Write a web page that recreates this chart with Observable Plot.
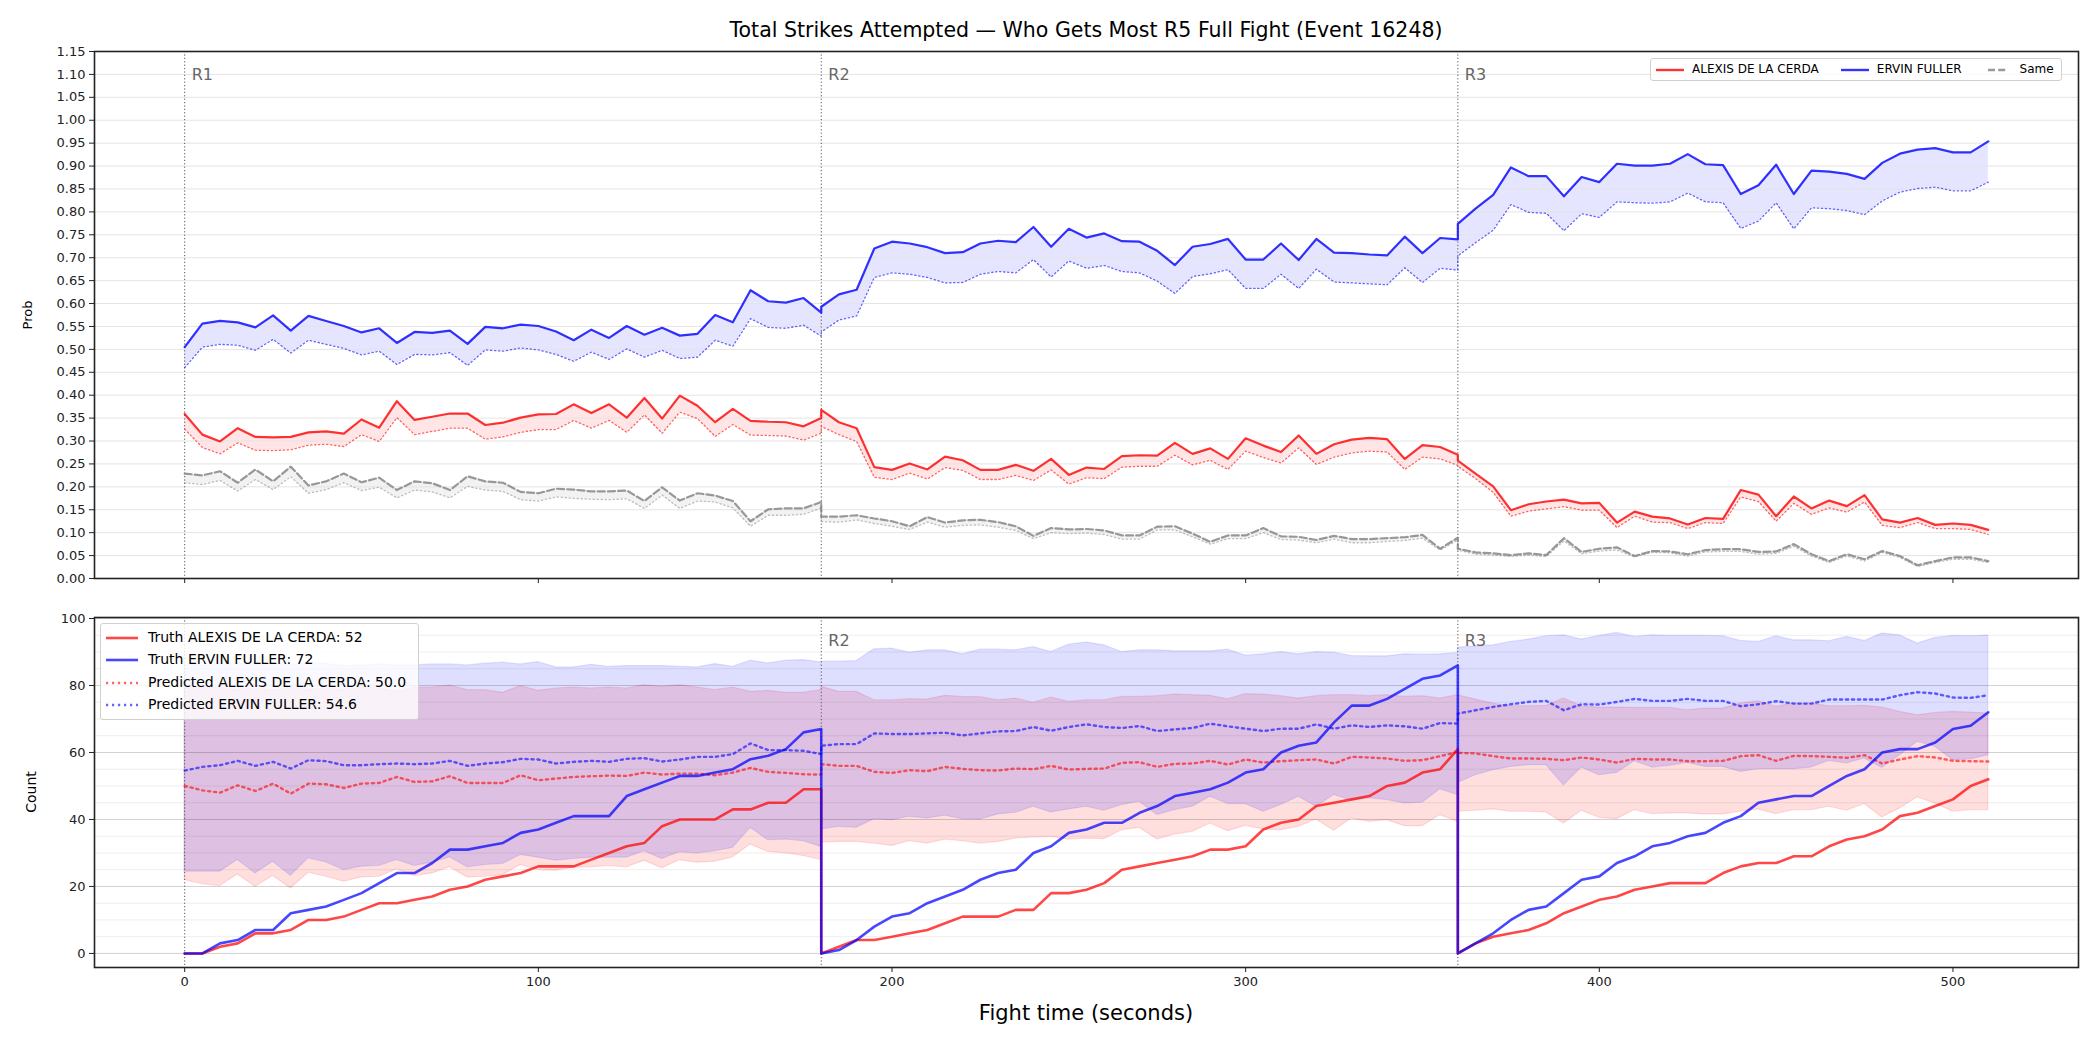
<!DOCTYPE html>
<html><head><meta charset="utf-8">
<script src="https://cdn.jsdelivr.net/npm/d3@7"></script>
<script src="https://cdn.jsdelivr.net/npm/@observablehq/plot@0.6"></script>
<style>
body{margin:0;background:#fff;font-family:"DejaVu Sans",sans-serif;}
#root{position:relative;width:2100px;height:1050px;overflow:hidden;background:#fff;}
.abs{position:absolute;white-space:nowrap;}
svg{overflow:visible;}
</style></head><body><div id="root"></div>
<script>
const FONT = '"DejaVu Sans", sans-serif';
const titleText = "Total Strikes Attempted \u2014 Who Gets Most R5 Full Fight (Event 16248)";
const fighterA = "ALEXIS DE LA CERDA";
const fighterB = "ERVIN FULLER";
const roundStarts = [0, 180, 360];
const roundLabels = ["R1", "R2", "R3"];
const xTicks = [0, 100, 200, 300, 400, 500];
const truthFinalA = 52, truthFinalB = 72, predStartA = "50.0", predStartB = "54.6";

// sample times: R1 0..180, R2 180..360, R3 360..510 (5 s steps)
const times = [...d3.range(0, 181, 5), ...d3.range(180, 361, 5), ...d3.range(360, 511, 5)];

// ---- top panel: probabilities ----
const probA = [0.359,0.314,0.299,0.328,0.309,0.308,0.309,0.319,0.321,0.316,0.347,0.329,0.387,0.346,0.353,0.360,0.360,0.335,0.340,0.351,0.358,0.359,0.380,0.361,0.380,0.351,0.394,0.349,0.399,0.377,0.341,0.370,0.344,0.342,0.341,0.332,0.350,
 0.368,0.341,0.328,0.243,0.237,0.251,0.238,0.266,0.258,0.237,0.237,0.248,0.235,0.261,0.226,0.242,0.239,0.267,0.269,0.268,0.296,0.272,0.284,0.261,0.306,0.290,0.276,0.312,0.272,0.293,0.303,0.307,0.304,0.261,0.291,0.287,0.270,
 0.257,0.229,0.201,0.149,0.162,0.168,0.172,0.164,0.165,0.122,0.146,0.135,0.131,0.118,0.132,0.130,0.193,0.183,0.136,0.179,0.153,0.170,0.158,0.182,0.129,0.122,0.132,0.117,0.120,0.117,0.106];
const probAPred = [0.326,0.286,0.272,0.296,0.280,0.279,0.281,0.291,0.293,0.288,0.314,0.299,0.351,0.314,0.321,0.328,0.328,0.304,0.309,0.319,0.325,0.325,0.345,0.328,0.345,0.319,0.357,0.317,0.363,0.349,0.310,0.336,0.313,0.312,0.311,0.302,0.317,
 0.332,0.314,0.299,0.221,0.216,0.230,0.217,0.242,0.236,0.216,0.216,0.225,0.214,0.237,0.206,0.220,0.218,0.243,0.245,0.245,0.269,0.248,0.258,0.238,0.278,0.264,0.252,0.285,0.249,0.265,0.274,0.278,0.276,0.238,0.265,0.261,0.247,
 0.245,0.218,0.188,0.136,0.147,0.152,0.157,0.149,0.149,0.111,0.136,0.123,0.122,0.109,0.122,0.120,0.178,0.168,0.125,0.164,0.140,0.154,0.145,0.167,0.116,0.111,0.122,0.109,0.109,0.107,0.096];
const probB = [0.505,0.556,0.562,0.559,0.548,0.574,0.541,0.573,0.562,0.551,0.537,0.546,0.514,0.538,0.536,0.541,0.512,0.549,0.546,0.554,0.551,0.539,0.520,0.543,0.525,0.551,0.532,0.547,0.530,0.534,0.575,0.559,0.629,0.605,0.602,0.612,0.580,
 0.593,0.620,0.630,0.720,0.735,0.731,0.723,0.710,0.712,0.731,0.737,0.734,0.767,0.724,0.763,0.744,0.753,0.736,0.735,0.715,0.684,0.724,0.730,0.741,0.696,0.696,0.731,0.695,0.741,0.711,0.710,0.707,0.705,0.746,0.710,0.743,0.740,
 0.774,0.807,0.837,0.897,0.878,0.878,0.834,0.876,0.865,0.905,0.901,0.901,0.905,0.926,0.904,0.902,0.839,0.858,0.903,0.839,0.890,0.888,0.883,0.872,0.907,0.927,0.936,0.939,0.930,0.930,0.954];
const probBPred = [0.460,0.505,0.511,0.509,0.498,0.522,0.492,0.520,0.511,0.502,0.488,0.496,0.467,0.489,0.488,0.493,0.465,0.499,0.496,0.503,0.499,0.489,0.474,0.494,0.478,0.501,0.483,0.498,0.480,0.483,0.520,0.507,0.567,0.548,0.546,0.553,0.529,
 0.538,0.564,0.573,0.657,0.667,0.664,0.657,0.645,0.646,0.664,0.670,0.667,0.696,0.658,0.693,0.677,0.683,0.670,0.667,0.649,0.622,0.659,0.665,0.674,0.633,0.633,0.664,0.633,0.675,0.647,0.645,0.643,0.641,0.678,0.646,0.677,0.673,
 0.704,0.733,0.760,0.816,0.799,0.797,0.759,0.796,0.788,0.822,0.820,0.819,0.822,0.841,0.822,0.820,0.764,0.780,0.820,0.763,0.809,0.807,0.803,0.794,0.824,0.843,0.851,0.854,0.846,0.846,0.865];
const probSame = [0.229,0.225,0.234,0.209,0.238,0.212,0.244,0.203,0.212,0.229,0.210,0.220,0.193,0.212,0.208,0.193,0.223,0.212,0.209,0.189,0.186,0.196,0.194,0.190,0.190,0.192,0.169,0.199,0.170,0.186,0.181,0.169,0.125,0.151,0.153,0.153,0.167,
 0.135,0.135,0.138,0.131,0.125,0.114,0.134,0.122,0.127,0.128,0.123,0.114,0.093,0.110,0.107,0.108,0.105,0.094,0.094,0.113,0.114,0.098,0.080,0.094,0.094,0.110,0.092,0.091,0.084,0.093,0.086,0.086,0.088,0.090,0.095,0.065,0.089,
 0.065,0.057,0.055,0.051,0.055,0.051,0.088,0.058,0.065,0.068,0.049,0.060,0.059,0.053,0.062,0.064,0.064,0.058,0.059,0.075,0.053,0.038,0.053,0.042,0.060,0.049,0.029,0.038,0.046,0.046,0.038];
const probSamePred = [0.209,0.205,0.214,0.191,0.216,0.194,0.222,0.186,0.194,0.209,0.192,0.199,0.176,0.193,0.189,0.176,0.201,0.193,0.190,0.172,0.169,0.178,0.175,0.173,0.172,0.174,0.153,0.182,0.153,0.169,0.167,0.154,0.114,0.138,0.138,0.140,0.154,
 0.124,0.123,0.128,0.120,0.114,0.107,0.123,0.112,0.116,0.117,0.112,0.105,0.087,0.100,0.098,0.099,0.096,0.086,0.086,0.106,0.106,0.091,0.075,0.087,0.087,0.100,0.085,0.084,0.078,0.086,0.078,0.078,0.081,0.083,0.088,0.062,0.084,
 0.062,0.053,0.051,0.048,0.051,0.048,0.082,0.054,0.060,0.062,0.047,0.057,0.056,0.049,0.058,0.059,0.059,0.053,0.055,0.070,0.049,0.035,0.049,0.038,0.057,0.046,0.026,0.035,0.042,0.042,0.035];

// ---- bottom panel: counts ----
const truthA = [0,0,2,3,6,6,7,10,10,11,13,15,15,16,17,19,20,22,23,24,26,26,26,28,30,32,33,38,40,40,40,43,43,45,45,49,49,
 0,2,4,4,5,6,7,9,11,11,11,13,13,18,18,19,21,25,26,27,28,29,31,31,32,37,39,40,44,45,46,47,50,51,54,55,61,
 0,3,5,6,7,9,12,14,16,17,19,20,21,21,21,24,26,27,27,29,29,32,34,35,37,41,42,44,46,50,52];
const truthB = [0,0,3,4,7,7,12,13,14,16,18,21,24,24,27,31,31,32,33,36,37,39,41,41,41,47,49,51,53,53,54,55,58,59,61,66,67,
 0,1,4,8,11,12,15,17,19,22,24,25,30,32,36,37,39,39,42,44,47,48,49,51,54,55,60,62,63,69,74,74,76,79,82,83,86,
 0,3,6,10,13,14,18,22,23,27,29,32,33,35,36,39,41,45,46,47,47,50,53,55,60,61,61,63,67,68,72];
const predA = [50.0,48.7,48.0,50.2,48.5,50.7,47.7,50.7,50.5,49.4,50.7,50.9,52.7,51.2,51.4,52.9,50.9,50.9,50.9,53.2,51.7,52.2,52.7,52.9,53.1,53.0,54.0,53.4,53.7,53.7,53.2,54.0,55.4,54.2,53.9,53.5,53.4,
 56.5,56.0,56.0,54.2,53.9,54.7,54.4,55.7,55.1,54.7,54.6,55.2,55.0,56.0,54.9,55.1,55.2,56.9,57.1,55.7,56.6,56.7,57.5,56.4,57.9,57.0,57.4,57.7,57.9,56.7,58.7,58.5,58.2,57.5,57.7,58.9,60.2,
 59.9,59.7,58.9,58.2,58.2,58.1,57.7,58.5,57.9,57.0,58.1,57.9,57.9,57.4,57.4,57.5,58.9,59.2,57.5,59.0,58.9,58.7,58.4,59.2,56.7,57.9,58.9,58.5,57.5,57.4,57.3];
const predB = [54.6,55.7,56.2,57.5,56.0,57.2,55.2,57.7,57.4,56.2,56.2,56.5,56.7,56.5,56.7,57.5,56.0,56.7,57.1,58.1,57.9,56.7,57.2,57.5,57.2,58.1,58.3,57.3,57.9,58.7,58.7,59.5,62.7,60.7,60.7,60.5,59.5,
 62.0,62.5,62.5,65.7,65.5,65.5,65.7,65.9,65.1,65.7,66.3,66.4,67.6,66.5,67.6,68.4,67.6,67.3,67.9,66.4,66.9,67.3,68.6,67.8,67.1,66.4,67.1,67.1,68.4,67.1,68.1,67.6,68.1,67.8,67.1,68.8,68.6,
 71.6,72.6,73.6,74.4,75.1,75.4,72.6,74.4,74.3,75.1,76.0,75.4,75.4,76.0,75.4,75.4,73.8,74.4,75.3,74.6,74.6,75.8,75.8,75.8,75.8,77.1,78.0,77.6,76.4,76.3,77.1];
const lowA = [21.9,20.7,20.1,23.6,19.9,23.1,19.4,24.1,22.9,21.4,22.7,22.9,25.1,23.1,23.9,25.7,22.7,22.9,23.4,26.4,24.9,24.7,25.6,25.7,26.1,25.7,27.7,25.4,27.8,27.1,27.4,28.7,32.5,30.3,29.9,29.1,27.9,
 33.1,33.3,33.3,32.8,32.1,33.5,32.8,34.0,33.5,32.8,33.3,34.3,34.6,34.8,34.0,34.3,34.1,36.8,37.5,34.0,35.5,36.3,38.8,36.5,38.1,37.0,36.8,37.8,40.0,36.6,40.3,39.3,39.8,38.0,38.0,41.3,39.3,
 42.3,42.6,43.0,42.3,42.3,42.1,38.8,42.6,40.5,40.1,42.8,41.6,41.8,41.8,41.5,41.5,42.3,43.0,41.6,42.8,42.8,43.8,42.6,44.6,40.6,43.3,46.6,44.8,42.3,42.8,42.8];
const highA = [80.1,79.4,79.4,78.6,79.1,78.4,79.4,78.6,79.1,78.6,79.4,79.1,78.1,79.4,79.4,80.0,78.6,78.6,77.8,79.8,78.4,79.1,79.4,79.1,79.4,79.1,80.1,79.6,80.1,79.4,78.6,79.4,78.1,78.4,77.8,77.8,78.6,
 79.6,78.1,78.1,75.6,75.6,75.9,75.8,76.9,76.6,76.5,75.6,76.1,74.8,76.4,75.1,75.6,75.6,76.6,76.6,76.8,77.3,77.1,76.9,75.9,77.4,77.3,76.8,76.1,76.8,77.1,77.1,76.8,77.1,76.6,76.8,76.1,77.1,
 77.1,75.8,74.6,73.8,73.8,73.9,76.1,73.8,73.4,73.4,73.3,73.3,73.3,72.6,73.1,73.1,74.6,75.3,73.6,74.6,74.6,73.8,73.8,73.9,73.4,72.1,71.1,71.8,72.1,71.9,71.6];
const lowB = [24.4,24.4,24.4,27.9,23.9,27.4,23.2,28.4,27.2,24.9,25.9,26.1,27.9,26.1,27.1,28.7,25.7,26.4,26.7,29.4,28.6,27.7,28.2,28.6,28.6,28.6,30.5,28.2,30.2,29.9,30.5,31.5,37.5,33.8,34.0,33.5,31.8,
 37.0,37.8,37.5,40.1,39.8,40.8,40.3,41.1,40.1,40.0,41.5,42.0,43.8,42.1,43.0,43.8,42.6,44.3,45.3,41.3,42.8,43.8,46.8,44.6,44.6,42.3,44.3,46.8,43.8,47.3,45.6,46.3,45.8,44.8,45.0,49.0,47.3,
 50.9,53.2,54.7,55.7,56.2,56.2,50.2,55.5,53.2,53.9,57.4,55.5,56.0,56.9,55.7,55.7,54.2,55.0,55.0,55.0,55.5,57.5,56.7,58.2,55.4,59.2,63.2,61.7,57.7,57.9,59.2];
const highB = [86.3,86.0,86.3,86.7,86.0,86.7,86.0,87.0,86.5,85.8,86.0,86.3,86.0,86.0,86.3,86.3,86.0,86.5,86.8,86.3,87.0,85.4,85.4,86.2,85.6,85.8,85.8,85.8,85.6,85.4,86.4,85.6,87.4,86.6,87.4,87.6,86.9,
 87.1,87.1,87.3,90.8,91.0,89.8,90.5,90.5,89.3,90.7,90.7,90.5,91.5,90.0,92.2,92.8,92.0,90.0,90.5,90.5,90.2,90.2,90.2,90.7,88.9,89.3,90.0,89.3,90.0,89.8,88.8,88.7,88.7,89.3,89.2,89.3,89.7,
 91.3,91.7,92.0,93.0,93.7,94.7,95.0,93.7,94.8,95.7,94.5,95.0,94.8,94.8,94.8,94.7,93.3,93.0,94.7,93.5,93.5,93.2,94.5,93.3,95.5,95.0,92.5,94.2,94.8,94.7,94.9];

const rows = times.map((t, i) => ({
  t, pA: probA[i], pAp: probAPred[i], pB: probB[i], pBp: probBPred[i], pS: probSame[i], pSp: probSamePred[i],
  tA: truthA[i], tB: truthB[i], qA: predA[i], qB: predB[i], loA: lowA[i], hiA: highA[i], loB: lowB[i], hiB: highB[i]
}));

const xDomain = [-25.5, 535.5];
const W = 2100, ML = 94, MR = 22;
const yTicksTop = d3.range(24).map(i => +(i * 0.05).toFixed(2));
const yTicksBot = [0, 20, 40, 60, 80, 100];
const yMinorBot = d3.range(0, 101, 5);
const dot = "1.4,2.6";
const dotBig = "2.2,3.8";

const topPlot = Plot.plot({
  width: W, height: 600,
  marginLeft: ML, marginRight: MR, marginTop: 51, marginBottom: 22,
  style: {fontFamily: FONT, background: "transparent", color: "#222"},
  x: {domain: xDomain, axis: null},
  y: {domain: [0, 1.15], axis: null},
  marks: [
    Plot.areaY(rows, {x: "t", y1: "pAp", y2: "pA", fill: "red", fillOpacity: 0.1}),
    Plot.areaY(rows, {x: "t", y1: "pBp", y2: "pB", fill: "blue", fillOpacity: 0.1}),
    Plot.areaY(rows, {x: "t", y1: "pSp", y2: "pS", fill: "gray", fillOpacity: 0.1}),
    Plot.ruleY(yTicksTop, {stroke: "#e4e4e4", strokeWidth: 1}),
    Plot.ruleX(roundStarts, {stroke: "#555", strokeWidth: 1, strokeDasharray: "1.2,2.2"}),
    Plot.text(roundStarts, {x: d => d, text: (d, i) => roundLabels[i], frameAnchor: "top", textAnchor: "start", dx: 7, dy: 17, fill: "#666", fontSize: 16}),
    Plot.line(rows, {x: "t", y: "pAp", stroke: "red", strokeOpacity: 0.6, strokeWidth: 1.3, strokeDasharray: dot}),
    Plot.line(rows, {x: "t", y: "pBp", stroke: "blue", strokeOpacity: 0.6, strokeWidth: 1.3, strokeDasharray: dot}),
    Plot.line(rows, {x: "t", y: "pSp", stroke: "gray", strokeOpacity: 0.5, strokeWidth: 1.3, strokeDasharray: dot}),
    Plot.line(rows, {x: "t", y: "pA", stroke: "red", strokeOpacity: 0.8, strokeWidth: 2.2}),
    Plot.line(rows, {x: "t", y: "pB", stroke: "blue", strokeOpacity: 0.8, strokeWidth: 2.2}),
    Plot.line(rows, {x: "t", y: "pS", stroke: "gray", strokeOpacity: 0.8, strokeWidth: 2.2, strokeDasharray: "7,3.2"}),
    Plot.axisY(yTicksTop, {tickFormat: d3.format(".2f"), tickSize: 5, tickPadding: 4, fontSize: 13, label: null}),
    Plot.axisX(xTicks, {tickFormat: () => "", tickSize: 5, label: null}),
    Plot.frame({stroke: "#222", strokeWidth: 1.6})
  ]
});

const botPlot = Plot.plot({
  width: W, height: 450,
  marginLeft: ML, marginRight: MR, marginTop: 17, marginBottom: 83,
  style: {fontFamily: FONT, background: "transparent", color: "#222"},
  x: {domain: xDomain, axis: null},
  y: {domain: [-4.2, 100.3], axis: null},
  marks: [
    Plot.areaY(rows, {x: "t", y1: "loA", y2: "hiA", fill: "red", fillOpacity: 0.13, stroke: "red", strokeOpacity: 0.12, strokeWidth: 1.2}),
    Plot.areaY(rows, {x: "t", y1: "loB", y2: "hiB", fill: "blue", fillOpacity: 0.13, stroke: "blue", strokeOpacity: 0.1, strokeWidth: 1.2}),
    Plot.ruleY(yMinorBot, {stroke: "#000", strokeOpacity: 0.07, strokeWidth: 1}),
    Plot.ruleY(yTicksBot, {stroke: "#000", strokeOpacity: 0.12, strokeWidth: 1}),
    Plot.ruleX(roundStarts, {stroke: "#555", strokeWidth: 1, strokeDasharray: "1.2,2.2"}),
    Plot.text(roundStarts.slice(1), {x: d => d, text: (d, i) => roundLabels[i + 1], frameAnchor: "top", textAnchor: "start", dx: 7, dy: 17, fill: "#666", fontSize: 16}),
    Plot.line(rows, {x: "t", y: "qA", stroke: "red", strokeOpacity: 0.6, strokeWidth: 2.4, strokeDasharray: dotBig}),
    Plot.line(rows, {x: "t", y: "qB", stroke: "blue", strokeOpacity: 0.6, strokeWidth: 2.4, strokeDasharray: dotBig}),
    Plot.line(rows, {x: "t", y: "tA", stroke: "red", strokeOpacity: 0.72, strokeWidth: 2.6}),
    Plot.line(rows, {x: "t", y: "tB", stroke: "blue", strokeOpacity: 0.72, strokeWidth: 2.6}),
    Plot.axisY(yTicksBot, {tickSize: 5, tickPadding: 4, fontSize: 13, label: null}),
    Plot.axisX(xTicks, {tickSize: 5, tickPadding: 4, fontSize: 13, label: null}),
    Plot.frame({stroke: "#222", strokeWidth: 1.6})
  ]
});

const root = document.getElementById("root");
function place(el, left, top) { el.style.position = "absolute"; el.style.left = left + "px"; el.style.top = top + "px"; root.appendChild(el); return el; }
place(topPlot, 0, 0);
place(botPlot, 0, 600);

function div(html, css) { const d = document.createElement("div"); d.className = "abs"; d.innerHTML = html; Object.assign(d.style, css); root.appendChild(d); return d; }
const axCenter = (ML + (W - MR)) / 2;
div(titleText, {left: axCenter + "px", top: "18px", transform: "translateX(-50%)", fontSize: "20.5px", color: "#000"});
div("Fight time (seconds)", {left: axCenter + "px", top: "1001px", transform: "translateX(-50%)", fontSize: "21px", color: "#000"});
div("Prob", {left: "27px", top: "315px", transform: "translate(-50%,-50%) rotate(-90deg)", fontSize: "13px", color: "#000"});
div("Count", {left: "31px", top: "792px", transform: "translate(-50%,-50%) rotate(-90deg)", fontSize: "14px", color: "#000"});

function swatch(color, dash, opacity, w, sw) {
  return `<svg width="${w}" height="10" style="vertical-align:middle"><line x1="0" y1="5" x2="${w}" y2="5" stroke="${color}" stroke-opacity="${opacity}" stroke-width="${sw}" ${dash ? `stroke-dasharray="${dash}"` : ""}/></svg>`;
}
// top legend
div(`<span style="display:inline-block;margin-right:8px">${swatch("red", null, 0.8, 28, 2.4)}</span><span style="margin-right:22px">${fighterA}</span>` +
    `<span style="display:inline-block;margin-right:8px">${swatch("blue", null, 0.8, 28, 2.4)}</span><span style="margin-right:26px">${fighterB}</span>` +
    `<span style="display:inline-block;margin-right:12px">${swatch("gray", "7,3.2", 0.8, 20, 2.4)}</span><span>Same</span>`,
  {left: "1650px", top: "58px", padding: "2px 7px 2px 5px", border: "1px solid #d0d0d0", borderRadius: "3px", background: "rgba(255,255,255,0.8)", fontSize: "12px", lineHeight: "17px", color: "#000"});
// bottom legend
const legRows = [
  [swatch("red", null, 0.72, 32, 2.6), `Truth ${fighterA}: ${truthFinalA}`],
  [swatch("blue", null, 0.72, 32, 2.6), `Truth ${fighterB}: ${truthFinalB}`],
  [swatch("red", dotBig, 0.6, 32, 2.4), `Predicted ${fighterA}: ${predStartA}`],
  [swatch("blue", dotBig, 0.6, 32, 2.4), `Predicted ${fighterB}: ${predStartB}`]
];
div(legRows.map(([s, t]) => `<div style="height:22.4px;line-height:22.4px"><span style="display:inline-block;width:42px">${s}</span>${t}</div>`).join(""),
  {left: "100px", top: "623px", padding: "2px 12px 3px 5px", border: "1px solid #d0d0d0", borderRadius: "3px", background: "rgba(255,255,255,0.8)", fontSize: "14px", color: "#000"});
</script></body></html>
